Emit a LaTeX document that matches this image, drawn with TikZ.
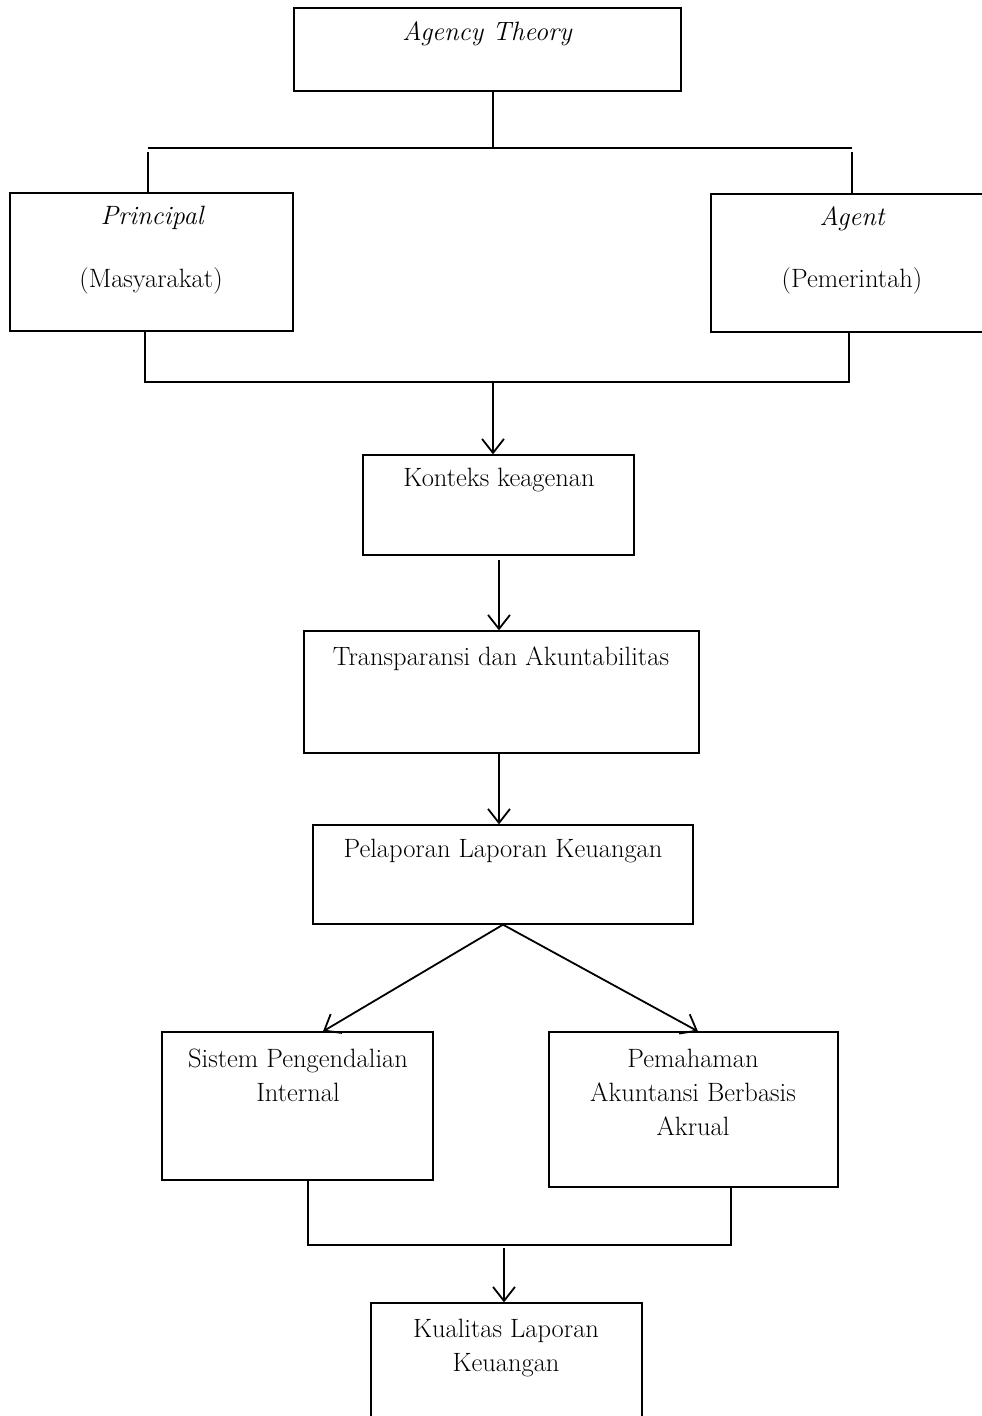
\documentclass[tikz,border=0pt]{standalone}
\usetikzlibrary{arrows.meta}
\tikzset{
  box/.style={draw, line width=1.3pt, inner sep=0pt},
  lbl/.style={font=\fontsize{26.5}{34}\selectfont, align=center, inner sep=0pt},
  conn/.style={line width=1.8pt},
  arr/.style={conn, -{Straight Barb[length=14pt,width=22pt,line width=1.8pt]}}
}
\begin{document}
\begin{tikzpicture}[x=1pt,y=-1pt]
\useasboundingbox (0,0) rectangle (982,1416);
\clip (0,0) rectangle (982,1416);
% boxes
\node[box, minimum width=387pt, minimum height=83pt] (at) at (487.5,49.5) {};
\node[box, minimum width=283pt, minimum height=138pt] (pr) at (151.5,262) {};
\node[box, minimum width=289pt, minimum height=138pt] (ag) at (855.5,263) {};
\node[box, minimum width=271pt, minimum height=100pt] (ko) at (498.5,505) {};
\node[box, minimum width=395pt, minimum height=122pt] (tr) at (501.5,692) {};
\node[box, minimum width=380pt, minimum height=99pt] (pe) at (503,874.5) {};
\node[box, minimum width=271pt, minimum height=148pt] (si) at (297.5,1106) {};
\node[box, minimum width=289pt, minimum height=155pt] (pm) at (693.5,1109.5) {};
\node[box, minimum width=271pt, minimum height=134pt] (ku) at (506.5,1370) {};
% labels
\node[lbl] (lat) at (487,34) {\itshape Agency Theory};
\node[lbl] (lpr1) at (152,218) {\itshape Principal};
\node[lbl] (lpr2) at (151,281) {(Masyarakat)};
\node[lbl] (lag1) at (852,219) {\itshape Agent};
\node[lbl] (lag2) at (852,281) {(Pemerintah)};
\node[lbl] (lko) at (499,480) {Konteks keagenan};
\node[lbl] (ltr) at (501,659) {Transparansi dan Akuntabilitas};
\node[lbl] (lpe) at (503,851) {Pelaporan Laporan Keuangan};
\node[lbl] (lsi) at (298,1075) {Sistem Pengendalian\\Internal};
\node[lbl] (lpm) at (693,1092) {Pemahaman\\Akuntansi Berbasis\\Akrual};
\node[lbl] (lku) at (506,1348) {Kualitas Laporan\\Keuangan};
% top split
\coordinate (t0) at (493,148);
\coordinate (t1) at (148,148);
\coordinate (t2) at (852,148);
\draw[conn] (t0 |- at.south) -- (t0);
\draw[conn] (t1) -- (t2);
\draw[conn] ([yshift=-4pt]t1) -- (t1 |- pr.north);
\draw[conn] ([yshift=-4pt]t2) -- (t2 |- ag.north);
% join principal / agent
\coordinate (b1) at (145,382);
\coordinate (b2) at (849,382);
\coordinate (m1) at (493,382);
\draw[conn] (b1 |- pr.south) -- (b1) -- (b2) -- (b2 |- ag.south);
\draw[arr] (m1) -- (m1 |- ko.north);
% chain
\coordinate (m3) at (499,560);
\draw[arr] (m3) -- (m3 |- tr.north);
\draw[arr] ([xshift=-2.5pt]tr.south) -- ([xshift=-2.5pt]tr.south |- pe.north);
% split
\draw[arr] (pe.south) -- ([xshift=25.5pt]si.north);
\draw[arr] (pe.south) -- ([xshift=4.5pt]pm.north);
% join bottom
\coordinate (c1) at (308,1245);
\coordinate (c2) at (731,1245);
\coordinate (m2) at (504,1248);
\draw[conn] (c1 |- si.south) -- (c1) -- (c2) -- (c2 |- pm.south);
\draw[arr] (m2) -- (m2 |- ku.north);
\end{tikzpicture}
\end{document}
